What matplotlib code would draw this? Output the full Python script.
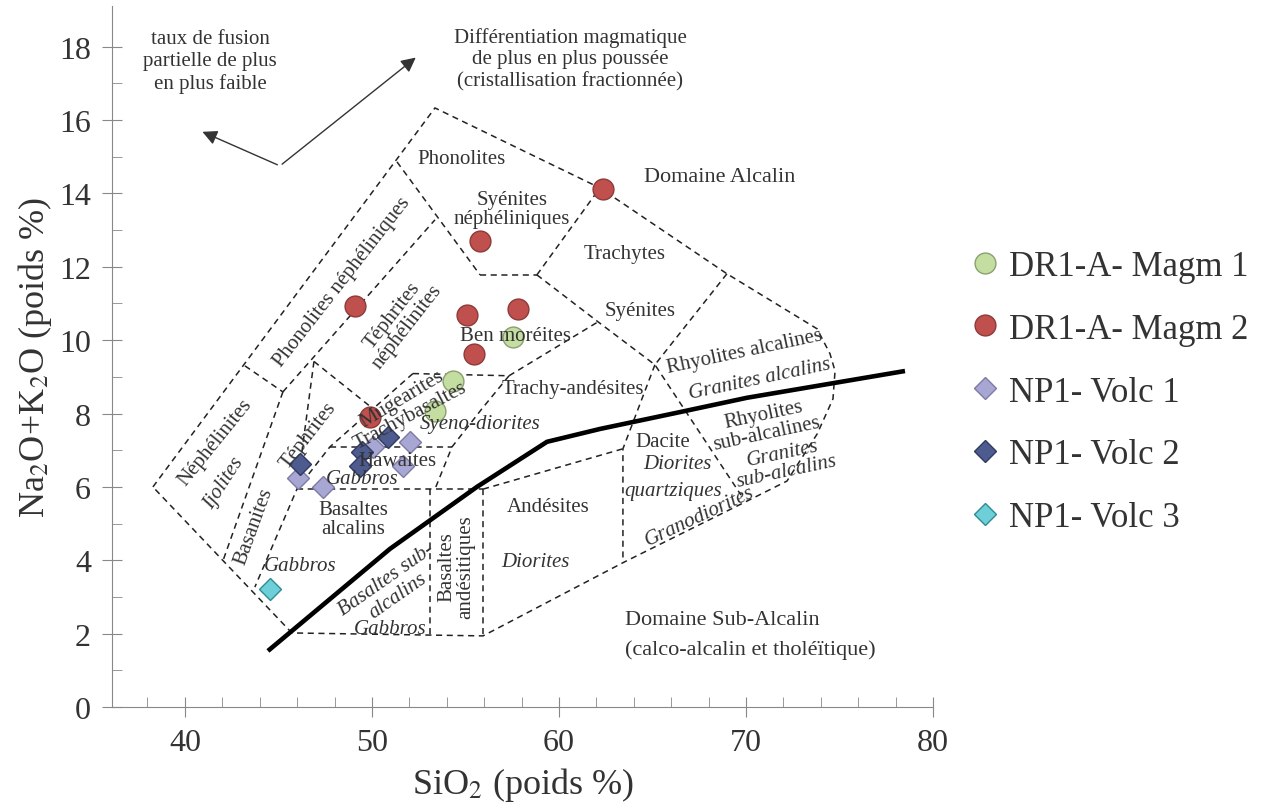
import numpy as np
import matplotlib
matplotlib.use("Agg")
import matplotlib.pyplot as plt

plt.rcParams['font.family'] = ['Liberation Serif', 'DejaVu Serif']
plt.rcParams['mathtext.fontset'] = 'stix'

# --- données (SiO2, Na2O+K2O) ---
magm1_si = [57.54, 54.33, 53.37]
magm1_alk = [10.09, 8.89, 8.07]

magm2_si = [62.35, 55.78, 49.09, 55.08, 57.81, 55.45, 49.89]
magm2_alk = [14.13, 12.71, 10.94, 10.69, 10.85, 9.63, 7.91]

volc1_si = [50.07, 52.03, 51.67, 46.06, 47.36]
volc1_alk = [7.08, 7.23, 6.58, 6.23, 5.99]

volc2_si = [46.15, 50.86, 49.47, 49.36]
volc2_alk = [6.63, 7.36, 6.95, 6.57]

volc3_si = [44.55]
volc3_alk = [3.22]

# limite alcalin / sub-alcalin
limite_si = [44.44, 50.96, 55.61, 59.36, 62.19, 66.47, 70.05, 78.50]
limite_alk = [1.53, 4.31, 6.00, 7.23, 7.58, 8.04, 8.43, 9.16]

# contour et limites des champs (polylignes)
contour = [(38.29, 6.00), (53.37, 16.33), (62.19, 14.15), (68.98, 11.81),
           (73.80, 10.31), (74.49, 9.63), (74.76, 9.16), (74.65, 8.40),
           (73.80, 7.44), (72.19, 6.16), (70.59, 5.75), (63.48, 3.95),
           (55.94, 1.94), (45.72, 2.02), (38.29, 6.00)]

champs = [
    [(51.34, 14.86), (55.78, 11.78)],
    [(43.21, 9.30), (45.24, 8.59)],
    [(45.24, 8.59), (53.37, 13.28)],
    [(45.24, 8.59), (42.03, 3.98)],
    [(55.78, 11.78), (58.82, 11.78)],
    [(58.82, 11.78), (62.19, 14.15)],
    [(58.82, 11.78), (62.09, 10.50), (65.13, 9.33), (69.73, 5.78)],
    [(68.98, 11.81), (65.13, 9.33)],
    [(65.13, 9.33), (63.42, 7.04), (63.42, 3.95)],
    [(55.94, 5.94), (63.42, 7.04)],
    [(55.94, 5.94), (55.94, 1.94)],
    [(53.10, 5.94), (53.10, 1.94)],
    [(45.99, 5.94), (55.94, 5.94)],
    [(57.33, 9.03), (62.09, 10.50)],
    [(57.33, 9.03), (55.88, 8.13), (54.28, 7.09), (53.37, 5.94)],
    [(52.19, 9.09), (57.33, 9.03)],
    [(47.75, 7.09), (54.28, 7.09)],
    [(52.19, 9.09), (47.75, 7.09), (45.99, 5.94), (43.74, 3.27)],
    [(46.90, 9.42), (50.21, 8.07)],
    [(46.90, 9.42), (45.99, 5.94)],
]

fig = plt.figure(figsize=(12.75, 8.12), dpi=100)
ax = fig.add_axes([0.0878, 0.128, 0.644, 0.863])

dash = (0, (4, 3))
xs, ys = zip(*contour)
ax.plot(xs, ys, color='#222222', lw=1.1, ls=dash)
for ligne in champs:
    xs, ys = zip(*ligne)
    ax.plot(xs, ys, color='#222222', lw=1.1, ls=dash)

ax.plot(limite_si, limite_alk, color='black', lw=3.3, solid_capstyle='butt')

# étiquettes des champs
tc = '#333333'
def lab(x, y, s, size=15, rot=0, style='normal', ha='center'):
    ax.text(x, y, s, fontsize=size, rotation=rot, style=style, ha=ha,
            va='center', color=tc, linespacing=1.0, rotation_mode='anchor')

lab(54.81, 14.94, "Phonolites")
lab(57.49, 13.58, "Syénites\nnéphéliniques")
lab(63.53, 12.35, "Trachytes")
lab(64.33, 10.80, "Syénites")
lab(57.65, 10.12, "Ben moréites")
lab(60.75, 8.67, "Trachy-andésites")
lab(55.78, 7.72, "Syeno-diorites", style='italic')
lab(68.61, 14.45, "Domaine Alcalin", size=16)
lab(69.95, 9.71, "Rhyolites alcalines", rot=12)
lab(70.75, 8.94, "Granites alcalins", rot=12, style='italic')
lab(71.02, 7.72, "Rhyolites\nsub-alcalines", rot=12)
lab(72.09, 6.68, "Granites\nsub-alcalins", rot=12, style='italic')
lab(65.56, 7.23, "Dacite")
lab(66.31, 6.63, "Diorites", style='italic')
lab(66.10, 5.89, "quartziques", style='italic')
lab(67.54, 5.21, "Granodiorites", rot=25, style='italic')
lab(59.41, 5.48, "Andésites")
lab(58.72, 3.98, "Diorites", style='italic')
lab(54.49, 3.85, "Basaltes\nandésitiques", rot=90)
lab(51.07, 3.27, "Basaltes sub-\nalcalins", rot=35, style='italic')
lab(50.96, 2.13, "Gabbros", style='italic')
lab(46.15, 3.87, "Gabbros", style='italic')
lab(48.98, 5.13, "Basaltes\nalcalins")
lab(49.47, 6.22, "Gabbros", style='italic')
lab(51.34, 6.71, "Hawaites")
lab(51.60, 8.40, "Mugearites", rot=31)
lab(52.03, 7.94, "Trachybasaltes", rot=28)
lab(46.63, 7.42, "Téphrites", rot=52)
lab(43.69, 4.94, "Basanites", rot=70)
lab(42.09, 6.11, "Ijolites", rot=57, style='italic')
lab(41.60, 7.23, "Néphélinites", rot=51)
lab(48.40, 11.59, "Phonolites néphéliniques", rot=52)
lab(51.50, 10.53, "Téphrites\nnéphélinites", rot=52)

ax.text(63.53, 2.40, "Domaine Sub-Alcalin", fontsize=16, color=tc, va='center')
ax.text(63.53, 1.58, "(calco-alcalin et tholéïtique)", fontsize=16, color=tc, va='center')
ax.text(41.34, 17.6, "taux de fusion\npartielle de plus\nen plus faible", fontsize=15,
        color=tc, ha='center', va='center', linespacing=1.2)
ax.text(60.59, 17.67, "Différentiation magmatique\nde plus en plus poussée\n(cristallisation fractionnée)",
        fontsize=15, color=tc, ha='center', va='center', linespacing=1.2)

# flèches
sommet = (45.08, 14.75)
ax.annotate("", xy=(40.80, 15.71), xytext=sommet,
            arrowprops=dict(arrowstyle='-|>', color='#333333', lw=1.0, mutation_scale=22))
ax.annotate("", xy=(52.46, 17.75), xytext=sommet,
            arrowprops=dict(arrowstyle='-|>', color='#333333', lw=1.0, mutation_scale=22))

# points
ms = 15
ax.plot(magm1_si, magm1_alk, 'o', ms=ms, mfc='#c4dda0', mec='#8aa070', mew=1, ls='none', label='DR1-A- Magm 1')
ax.plot(magm2_si, magm2_alk, 'o', ms=ms, mfc='#c0504d', mec='#8c3a38', mew=1, ls='none', label='DR1-A- Magm 2')
ax.plot(volc1_si, volc1_alk, 'D', ms=11, mfc='#a8a6d2', mec='#7d7ba6', mew=1, ls='none', label='NP1- Volc 1')
ax.plot(volc2_si, volc2_alk, 'D', ms=11, mfc='#4d5b8e', mec='#2f3b62', mew=1, ls='none', label='NP1- Volc 2')
ax.plot(volc3_si, volc3_alk, 'D', ms=11, mfc='#6fcfd8', mec='#2b8c96', mew=1, ls='none', label='NP1- Volc 3')

ax.set_xlim(36.1, 80)
ax.set_ylim(0, 19.1)
ax.set_xticks([40, 50, 60, 70, 80])
ax.set_xticks(np.arange(38, 80, 2), minor=True)
ax.set_yticks(np.arange(0, 19, 2))
ax.set_yticks(np.arange(1, 19, 2), minor=True)
for s in ['top', 'right']:
    ax.spines[s].set_visible(False)
for s in ['left', 'bottom']:
    ax.spines[s].set_color('#888888')
ax.tick_params(which='major', direction='inout', length=14, color='#888888', labelsize=23,
               labelcolor='#333333', pad=8)
ax.tick_params(which='minor', direction='in', length=7, color='#888888')
ax.set_xlabel("SiO$_2$ (poids %)", fontsize=26, color='#333333', labelpad=6)
ax.set_ylabel("Na$_2$O+K$_2$O (poids %)", fontsize=26, color='#333333', labelpad=4)

fig.legend(loc='center left', bbox_to_anchor=(0.733, 0.516), frameon=False, fontsize=25,
           labelspacing=0.86, handletextpad=0.15, handlelength=1.1, labelcolor='#333333')

fig.savefig("out.png", dpi=100)
